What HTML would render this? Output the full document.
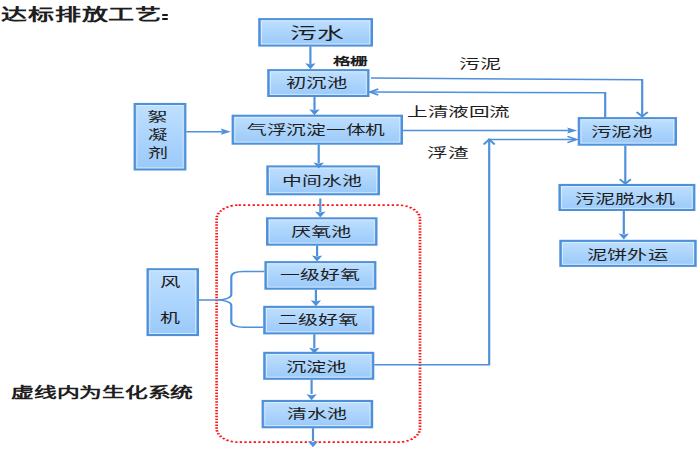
<!DOCTYPE html>
<html lang="zh-CN"><head><meta charset="utf-8"><style>
html,body{margin:0;padding:0;background:#fff;width:700px;height:450px;overflow:hidden;position:relative}
body{font-family:"Liberation Sans",sans-serif;color:#1e1e1e}
.t{-webkit-text-stroke:0}
.bd{-webkit-text-stroke:0}
.t{position:absolute;white-space:nowrap;transform-origin:0 0;line-height:1.5}
svg{position:absolute;left:0;top:0}
</style></head><body>

<svg width="700" height="450" viewBox="0 0 700 450"><defs><linearGradient id="g" x1="0" y1="0" x2="0" y2="1"><stop offset="0" stop-color="#bfe0ff"/><stop offset="1" stop-color="#9ac9f9"/></linearGradient></defs><rect x="259.30" y="19.20" width="112.60" height="26.30" fill="url(#g)" stroke="#4e90da" stroke-width="2.2"/><rect x="260.40" y="20.20" width="0.5" height="24.30" fill="#4e90da"/><rect x="370.30" y="20.20" width="0.5" height="24.30" fill="#4e90da"/><rect x="261.40" y="20.70" width="108.40" height="23.30" fill="none" stroke="#e2f1ff" stroke-opacity="0.8" stroke-width="1"/><rect x="268.30" y="70.20" width="100.10" height="25.70" fill="url(#g)" stroke="#4e90da" stroke-width="2.2"/><rect x="269.40" y="71.20" width="0.5" height="23.70" fill="#4e90da"/><rect x="366.80" y="71.20" width="0.5" height="23.70" fill="#4e90da"/><rect x="270.40" y="71.70" width="95.90" height="22.70" fill="none" stroke="#e2f1ff" stroke-opacity="0.8" stroke-width="1"/><rect x="232.70" y="115.80" width="169.20" height="27.80" fill="url(#g)" stroke="#4e90da" stroke-width="2.2"/><rect x="233.80" y="116.80" width="0.5" height="25.80" fill="#4e90da"/><rect x="400.30" y="116.80" width="0.5" height="25.80" fill="#4e90da"/><rect x="234.80" y="117.30" width="165.00" height="24.80" fill="none" stroke="#e2f1ff" stroke-opacity="0.8" stroke-width="1"/><rect x="267.40" y="166.50" width="111.50" height="27.70" fill="url(#g)" stroke="#4e90da" stroke-width="2.2"/><rect x="268.50" y="167.50" width="0.5" height="25.70" fill="#4e90da"/><rect x="377.30" y="167.50" width="0.5" height="25.70" fill="#4e90da"/><rect x="269.50" y="168.00" width="107.30" height="24.70" fill="none" stroke="#e2f1ff" stroke-opacity="0.8" stroke-width="1"/><rect x="578.80" y="118.20" width="97.10" height="26.40" fill="url(#g)" stroke="#4e90da" stroke-width="2.2"/><rect x="579.90" y="119.20" width="0.5" height="24.40" fill="#4e90da"/><rect x="674.30" y="119.20" width="0.5" height="24.40" fill="#4e90da"/><rect x="580.90" y="119.70" width="92.90" height="23.40" fill="none" stroke="#e2f1ff" stroke-opacity="0.8" stroke-width="1"/><rect x="559.50" y="185.00" width="134.80" height="24.90" fill="url(#g)" stroke="#4e90da" stroke-width="2.2"/><rect x="560.60" y="186.00" width="0.5" height="22.90" fill="#4e90da"/><rect x="692.70" y="186.00" width="0.5" height="22.90" fill="#4e90da"/><rect x="561.60" y="186.50" width="130.60" height="21.90" fill="none" stroke="#e2f1ff" stroke-opacity="0.8" stroke-width="1"/><rect x="560.40" y="240.90" width="135.20" height="24.90" fill="url(#g)" stroke="#4e90da" stroke-width="2.2"/><rect x="561.50" y="241.90" width="0.5" height="22.90" fill="#4e90da"/><rect x="694.00" y="241.90" width="0.5" height="22.90" fill="#4e90da"/><rect x="562.50" y="242.40" width="131.00" height="21.90" fill="none" stroke="#e2f1ff" stroke-opacity="0.8" stroke-width="1"/><rect x="267.10" y="218.40" width="109.30" height="26.20" fill="url(#g)" stroke="#4e90da" stroke-width="2.2"/><rect x="268.20" y="219.40" width="0.5" height="24.20" fill="#4e90da"/><rect x="374.80" y="219.40" width="0.5" height="24.20" fill="#4e90da"/><rect x="269.20" y="219.90" width="105.10" height="23.20" fill="none" stroke="#e2f1ff" stroke-opacity="0.8" stroke-width="1"/><rect x="265.50" y="262.20" width="109.80" height="26.40" fill="url(#g)" stroke="#4e90da" stroke-width="2.2"/><rect x="266.60" y="263.20" width="0.5" height="24.40" fill="#4e90da"/><rect x="373.70" y="263.20" width="0.5" height="24.40" fill="#4e90da"/><rect x="267.60" y="263.70" width="105.60" height="23.40" fill="none" stroke="#e2f1ff" stroke-opacity="0.8" stroke-width="1"/><rect x="264.30" y="306.90" width="108.90" height="26.40" fill="url(#g)" stroke="#4e90da" stroke-width="2.2"/><rect x="265.40" y="307.90" width="0.5" height="24.40" fill="#4e90da"/><rect x="371.60" y="307.90" width="0.5" height="24.40" fill="#4e90da"/><rect x="266.40" y="308.40" width="104.70" height="23.40" fill="none" stroke="#e2f1ff" stroke-opacity="0.8" stroke-width="1"/><rect x="264.30" y="352.90" width="108.90" height="25.80" fill="url(#g)" stroke="#4e90da" stroke-width="2.2"/><rect x="265.40" y="353.90" width="0.5" height="23.80" fill="#4e90da"/><rect x="371.60" y="353.90" width="0.5" height="23.80" fill="#4e90da"/><rect x="266.40" y="354.40" width="104.70" height="22.80" fill="none" stroke="#e2f1ff" stroke-opacity="0.8" stroke-width="1"/><rect x="262.70" y="401.00" width="109.40" height="26.20" fill="url(#g)" stroke="#4e90da" stroke-width="2.2"/><rect x="263.80" y="402.00" width="0.5" height="24.20" fill="#4e90da"/><rect x="370.50" y="402.00" width="0.5" height="24.20" fill="#4e90da"/><rect x="264.80" y="402.50" width="105.20" height="23.20" fill="none" stroke="#e2f1ff" stroke-opacity="0.8" stroke-width="1"/><rect x="134.70" y="104.00" width="50.60" height="65.40" fill="url(#g)" stroke="#4e90da" stroke-width="2.2"/><rect x="135.80" y="105.00" width="0.5" height="63.40" fill="#4e90da"/><rect x="183.70" y="105.00" width="0.5" height="63.40" fill="#4e90da"/><rect x="136.80" y="105.50" width="46.40" height="62.40" fill="none" stroke="#e2f1ff" stroke-opacity="0.8" stroke-width="1"/><rect x="147.60" y="269.30" width="50.30" height="65.70" fill="url(#g)" stroke="#4e90da" stroke-width="2.2"/><rect x="148.70" y="270.30" width="0.5" height="63.70" fill="#4e90da"/><rect x="196.30" y="270.30" width="0.5" height="63.70" fill="#4e90da"/><rect x="149.70" y="270.80" width="46.10" height="62.70" fill="none" stroke="#e2f1ff" stroke-opacity="0.8" stroke-width="1"/><g transform="scale(1.6,1)"><rect x="135.375" y="205.1" width="127.125" height="237.10" rx="13.75" ry="14" fill="none" stroke="#ff1515" stroke-width="1.7" stroke-dasharray="1.45 1.45"/></g><g transform="scale(1.45,1)"><path d="M214.069,46.50 L214.069,64.00" fill="none" stroke="#4e90da" stroke-width="1.5" /><path d="M210.483,63.30 L214.069,69.30 L217.655,63.30 L214.069,64.30 Z" fill="#4e90da"/><path d="M216.897,96.90 L216.897,110.00" fill="none" stroke="#4e90da" stroke-width="1.5" /><path d="M213.310,109.20 L216.897,115.20 L220.483,109.20 L216.897,110.20 Z" fill="#4e90da"/><path d="M219.793,144.60 L219.793,163.00" fill="none" stroke="#4e90da" stroke-width="1.5" /><path d="M216.207,162.50 L219.793,168.50 L223.379,162.50 L219.793,163.50 Z" fill="#4e90da"/><path d="M220.897,198.50 L220.897,212.00" fill="none" stroke="#4e90da" stroke-width="1.5" /><path d="M217.310,211.60 L220.897,217.60 L224.483,211.60 L220.897,212.60 Z" fill="#4e90da"/><path d="M218.690,245.60 L218.690,256.00" fill="none" stroke="#4e90da" stroke-width="1.5" /><path d="M215.103,255.60 L218.690,261.60 L222.276,255.60 L218.690,256.60 Z" fill="#4e90da"/><path d="M217.862,289.60 L217.862,301.00" fill="none" stroke="#4e90da" stroke-width="1.5" /><path d="M214.276,300.30 L217.862,306.30 L221.448,300.30 L217.862,301.30 Z" fill="#4e90da"/><path d="M216.759,334.30 L216.759,348.00" fill="none" stroke="#4e90da" stroke-width="1.5" /><path d="M213.172,347.80 L216.759,353.80 L220.345,347.80 L216.759,348.80 Z" fill="#4e90da"/><path d="M214.897,379.70 L214.897,394.00" fill="none" stroke="#4e90da" stroke-width="1.5" /><path d="M211.310,394.20 L214.897,400.20 L218.483,394.20 L214.897,395.20 Z" fill="#4e90da"/><path d="M215.862,428.20 L215.862,441.00" fill="none" stroke="#4e90da" stroke-width="1.5" /><path d="M212.276,441.20 L215.862,447.20 L219.448,441.20 L215.862,442.20 Z" fill="#4e90da"/><path d="M128.552,131.70 L153.103,131.70" fill="none" stroke="#4e90da" stroke-width="1.6" /><path d="M152.276,128.60 L159.172,131.70 L152.276,134.80 L153.310,131.70 Z" fill="#4e90da"/><path d="M255.862,78.10 L442.897,79.80 L442.897,116.50" fill="none" stroke="#4e90da" stroke-width="1.5" /><path d="M439.103,112.10 L442.897,116.60 L446.690,112.10" fill="none" stroke="#4e90da" stroke-width="1.6" stroke-linejoin="miter"/><path d="M417.379,117.20 L417.379,92.80 L256.207,92.00" fill="none" stroke="#4e90da" stroke-width="1.5" /><path d="M260.897,89.00 L255.034,92.00 L260.897,95.00" fill="none" stroke="#4e90da" stroke-width="1.5"/><path d="M277.931,130.50 L392.414,130.50" fill="none" stroke="#4e90da" stroke-width="1.5" /><path d="M391.172,127.40 L398.069,130.50 L391.172,133.60 L392.207,130.50 Z" fill="#4e90da"/><path d="M258.138,364.80 L337.379,364.80 L337.379,139.50 L397.241,139.50" fill="none" stroke="#4e90da" stroke-width="1.5" /><path d="M391.379,136.30 L397.586,139.50 L391.379,142.70" fill="none" stroke="#4e90da" stroke-width="1.5"/><path d="M333.586,144.40 L337.379,139.40 L341.172,144.40" fill="none" stroke="#4e90da" stroke-width="1.6"/><path d="M431.241,145.60 L431.241,183.00" fill="none" stroke="#4e90da" stroke-width="1.5" /><path d="M427.448,179.30 L431.241,183.80 L435.034,179.30" fill="none" stroke="#4e90da" stroke-width="1.6" stroke-linejoin="miter"/><path d="M430.207,210.90 L430.207,234.00" fill="none" stroke="#4e90da" stroke-width="1.5" /><path d="M426.621,233.60 L430.207,239.60 L433.793,233.60 L430.207,234.60 Z" fill="#4e90da"/><path d="M137.241,300.00 L149.448,300.00 C154.483,300.00 159.517,298.00 159.517,294.50 L159.517,277.00 C159.517,273.00 163.448,271.50 167.793,271.50 L182.345,271.50 M149.448,300.00 C154.483,300.00 159.517,302.00 159.517,305.50 L159.517,322.00 C159.517,325.50 163.448,327.20 167.793,327.20 L181.517,327.20 " fill="none" stroke="#4e90da" stroke-width="1.5"/></g></svg>
<div class="t" style="left:290.47px;top:21.76px;font-size:16.00px;transform:scaleX(1.6761);">污水</div>
<div class="t" style="left:286.33px;top:73.21px;font-size:13.00px;transform:scaleX(1.5627);">初沉池</div>
<div class="t" style="left:246.76px;top:120.14px;font-size:13.00px;transform:scaleX(1.5166);">气浮沉淀一体机</div>
<div class="t" style="left:281.88px;top:170.86px;font-size:13.00px;transform:scaleX(1.5268);">中间水池</div>
<div class="t" style="left:591.31px;top:122.12px;font-size:13.00px;transform:scaleX(1.5751);">污泥池</div>
<div class="t" style="left:575.39px;top:189.24px;font-size:13.00px;transform:scaleX(1.5362);">污泥脱水机</div>
<div class="t" style="left:586.98px;top:245.05px;font-size:13.00px;transform:scaleX(1.5531);">泥饼外运</div>
<div class="t" style="left:290.69px;top:221.56px;font-size:13.00px;transform:scaleX(1.5491);">厌氧池</div>
<div class="t" style="left:280.00px;top:264.98px;font-size:13.00px;transform:scaleX(1.5323);">一级好氧</div>
<div class="t" style="left:277.64px;top:309.99px;font-size:13.00px;transform:scaleX(1.5418);">二级好氧</div>
<div class="t" style="left:286.38px;top:356.94px;font-size:13.00px;transform:scaleX(1.5565);">沉淀池</div>
<div class="t" style="left:287.05px;top:404.06px;font-size:13.00px;transform:scaleX(1.5341);">清水池</div>
<div class="t" style="left:147.30px;top:106.87px;font-size:13.00px;transform:scaleX(1.5951);">絮</div>
<div class="t" style="left:147.51px;top:124.87px;font-size:13.00px;transform:scaleX(1.4924);">凝</div>
<div class="t" style="left:147.56px;top:143.39px;font-size:13.00px;transform:scaleX(1.5439);">剂</div>
<div class="t" style="left:160.07px;top:271.69px;font-size:13.00px;transform:scaleX(1.5742);">风</div>
<div class="t" style="left:159.73px;top:308.49px;font-size:13.00px;transform:scaleX(1.5343);">机</div>
<div class="t bd" style="left:332.87px;top:54.34px;font-size:10.50px;transform:scaleX(1.6892);font-weight:bold;">格栅</div>
<div class="t" style="left:406.81px;top:102.25px;font-size:13.00px;transform:scaleX(1.5858);">上清液回流</div>
<div class="t" style="left:427.12px;top:142.93px;font-size:13.00px;transform:scaleX(1.5844);">浮渣</div>
<div class="t" style="left:459.35px;top:54.44px;font-size:13.00px;transform:scaleX(1.6178);">污泥</div>
<div class="t bd" style="left:11.24px;top:382.26px;font-size:14.00px;transform:scaleX(1.6264);font-weight:bold;">虚线内为生化系统</div>
<div class="t bd" style="left:0.80px;top:2.84px;font-size:15.50px;transform:scaleX(1.6784);font-weight:bold;">达标排放工艺</div>
<div style="position:absolute;left:161.8px;top:13.9px;width:5.8px;height:2px;background:#151515;border-radius:1px"></div><div style="position:absolute;left:161.8px;top:18.1px;width:5.8px;height:1.8px;background:#151515;border-radius:1px"></div>
</body></html>
